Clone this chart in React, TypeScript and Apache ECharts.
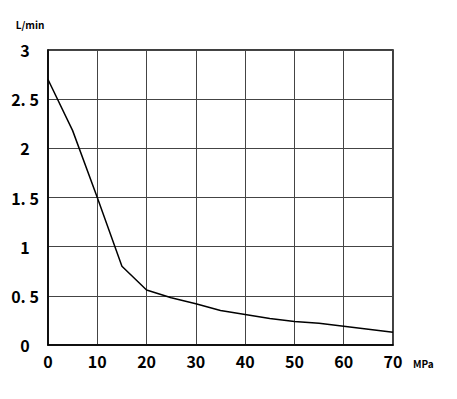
import React, { useEffect, useRef } from "react";
import * as echarts from "echarts";

const pressure = [0, 5, 10, 15, 20, 25, 30, 35, 40, 45, 50, 55, 60, 65, 70];
const flow = [2.7, 2.18, 1.5, 0.8, 0.56, 0.48, 0.42, 0.35, 0.31, 0.27, 0.24, 0.22, 0.19, 0.16, 0.13];
const xTicks = [0, 10, 20, 30, 40, 50, 60, 70];
const yTicks = [0, 0.5, 1, 1.5, 2, 2.5, 3];
const xName = "MPa";
const yName = "L/min";

const FONT = '"Noto Sans CJK SC", sans-serif';

export default function App() {
  const ref = useRef<HTMLDivElement>(null);
  useEffect(() => {
    if (!ref.current) return;
    const chart = echarts.init(ref.current, null, { renderer: "svg" });
    chart.setOption({
      animation: false,
      backgroundColor: "#fff",
      grid: {
        left: 48,
        right: 64,
        top: 50,
        bottom: 54,
        show: true,
        borderColor: "#000",
        borderWidth: 1.5,
        backgroundColor: "transparent",
      },
      xAxis: {
        type: "value",
        min: xTicks[0],
        max: xTicks[xTicks.length - 1],
        interval: 10,
        name: xName,
        nameLocation: "end",
        nameGap: 20,
        nameTextStyle: {
          fontFamily: FONT,
          fontWeight: "bold",
          fontSize: 10,
          color: "#000",
          verticalAlign: "top",
          padding: [14, 0, 0, 0],
        },
        axisLine: { show: true, lineStyle: { color: "#000", width: 1.5 } },
        axisTick: { show: false },
        axisLabel: {
          fontFamily: FONT,
          fontWeight: "bold",
          fontSize: 16,
          color: "#000",
          margin: 8,
        },
        splitLine: { show: true, lineStyle: { color: "#444", width: 1 } },
      },
      yAxis: {
        type: "value",
        min: yTicks[0],
        max: yTicks[yTicks.length - 1],
        interval: 0.5,
        name: yName,
        nameLocation: "end",
        nameGap: 21,
        nameTextStyle: {
          fontFamily: FONT,
          fontWeight: "bold",
          fontSize: 10,
          color: "#000",
          align: "center",
          padding: [0, 36, 0, 0],
        },
        axisLine: { show: true, lineStyle: { color: "#000", width: 1.5 } },
        axisTick: { show: false },
        axisLabel: {
          fontFamily: FONT,
          fontWeight: "bold",
          fontSize: 16,
          color: "#000",
          margin: 23,
          align: "center",
          formatter: (v: number) => (Number.isInteger(v) ? String(v) : v.toFixed(1).replace(".", ". ")),
        },
        splitLine: { show: true, lineStyle: { color: "#444", width: 1 } },
      },
      series: [
        {
          type: "line",
          data: pressure.map((p, i) => [p, flow[i]]),
          showSymbol: false,
          symbol: "none",
          lineStyle: { color: "#000", width: 1.5 },
          z: 5,
        },
      ],
    });
    return () => chart.dispose();
  }, []);
  return <div ref={ref} style={{ width: 457, height: 399, position: "absolute", left: 0, top: 0 }} />;
}
